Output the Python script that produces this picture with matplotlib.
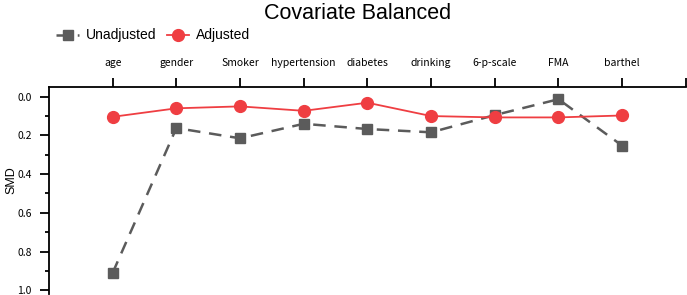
import matplotlib.pyplot as plt

covariates = ["age", "gender", "Smoker", "hypertension", "diabetes",
              "drinking", "6-p-scale", "FMA", "barthel"]
unadjusted = [0.91, 0.162, 0.215, 0.14, 0.167, 0.184, 0.095, 0.013, 0.253]
adjusted = [0.104, 0.06, 0.05, 0.073, 0.031, 0.1, 0.107, 0.107, 0.097]
y_ticks = [0.0, 0.2, 0.4, 0.6, 0.8, 1.0]

gray = "#5b5b5b"
red = "#ef3e42"
tick_font = ["Noto Sans CJK JP", "DejaVu Sans"]


def main():
    fig = plt.figure(figsize=(6.87, 2.95), dpi=100)
    ax = fig.add_axes([0.0713, 0.003, 0.927, 0.702])

    xs = list(range(1, len(covariates) + 1))
    ax.plot(xs, unadjusted, color=gray, lw=1.8, ls=(0, (5, 3.5)),
            marker="s", ms=7, label="Unadjusted")
    ax.plot(xs, adjusted, color=red, lw=1.3, marker="o", ms=8.5,
            label="Adjusted")

    ax.set_xlim(0, 10)
    ax.set_ylim(1.02, -0.05)

    # R style axes: only left and top
    ax.spines["right"].set_visible(False)
    ax.spines["bottom"].set_visible(False)
    ax.spines["left"].set_linewidth(1.3)
    ax.spines["top"].set_linewidth(1.3)

    ax.xaxis.tick_top()
    ax.set_xticks(list(range(1, 11)))
    ax.set_xticklabels(covariates + [""], fontsize=7.5, family=tick_font)
    ax.tick_params(axis="x", length=6.5, width=1.3, pad=7)

    ax.set_yticks(y_ticks)
    ax.set_yticklabels([f"{v:.1f}" for v in y_ticks], fontsize=7.5,
                       family=tick_font)
    ax.set_yticks([0.1, 0.3, 0.5, 0.7, 0.9], minor=True)
    ax.tick_params(axis="y", which="major", length=6.5, width=1.3, pad=6)
    ax.tick_params(axis="y", which="minor", length=3, width=1.3)
    ax.set_ylabel("SMD", fontsize=9, family="Liberation Sans")
    ax.yaxis.set_label_coords(-0.05, 0.55)

    fig.text(0.52, 0.955, "Covariate Balanced", fontsize=15.5,
             family="Liberation Sans", ha="center", va="center")
    fig.legend(loc="center left", bbox_to_anchor=(0.064, 0.88), ncol=2,
               frameon=False, handlelength=1.65, columnspacing=0.75,
               handletextpad=0.45,
               prop={"family": "Liberation Sans", "size": 10})

    fig.savefig("out.png", dpi=100)
    return 0


if __name__ == "__main__":
    main()
